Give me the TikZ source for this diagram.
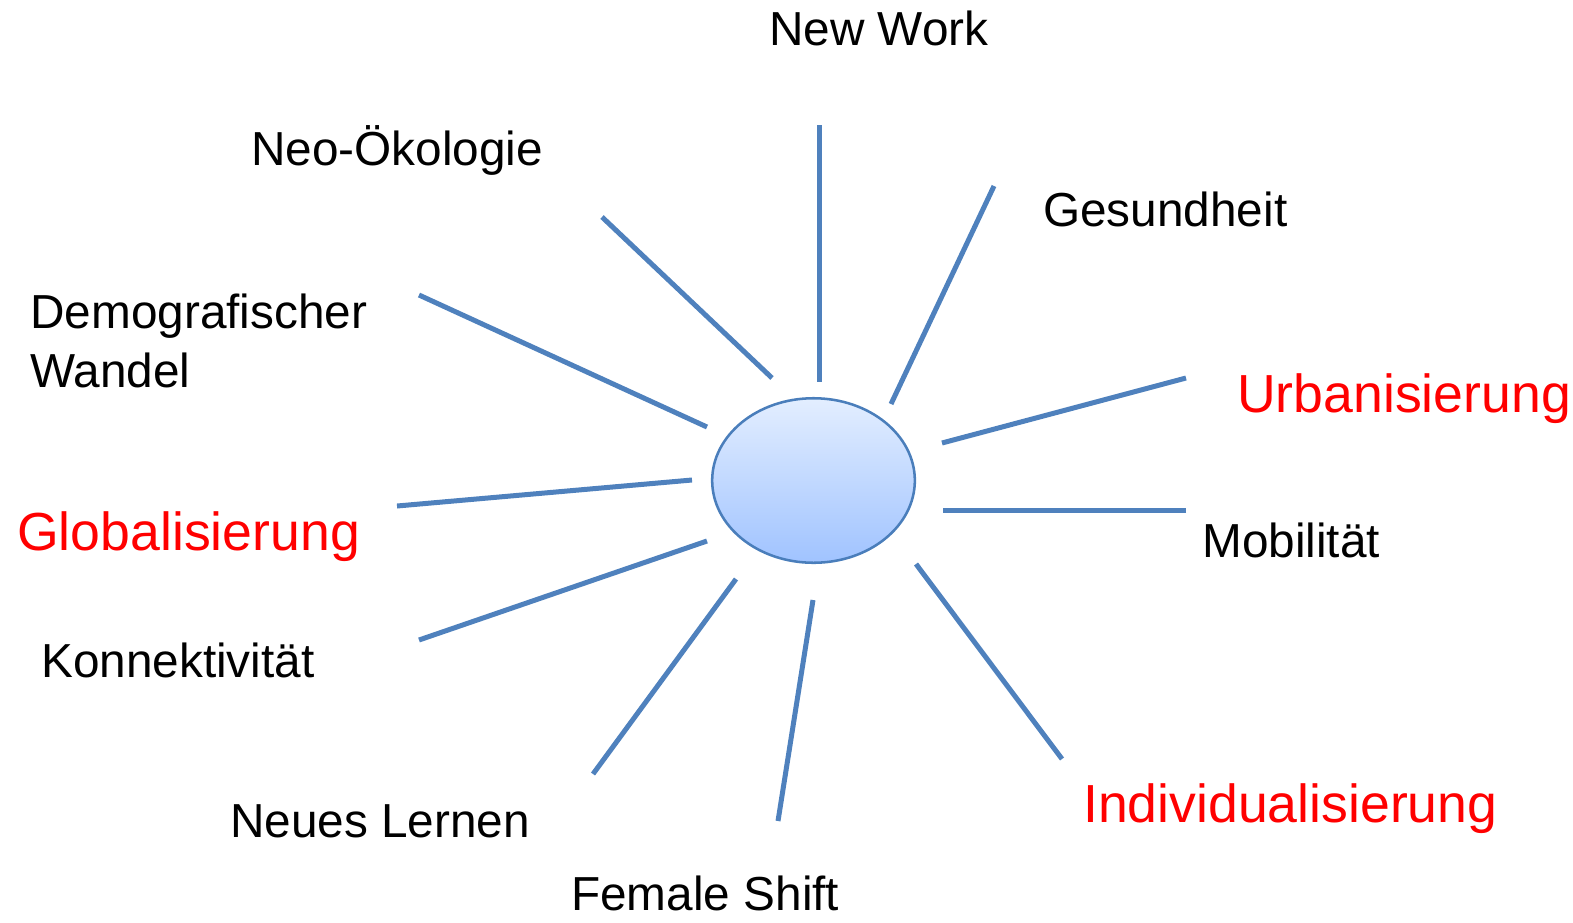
\documentclass[tikz,border=0pt]{standalone}
\usepackage{fontspec}
\setmainfont{Liberation Sans}
\usetikzlibrary{shapes.geometric}
\definecolor{spoke}{HTML}{4F81BD}
\definecolor{rim}{HTML}{4A7EBB}
\definecolor{topfill}{HTML}{E3EEFF}
\definecolor{botfill}{HTML}{A0C3FF}
\definecolor{redtxt}{HTML}{FF0000}
\begin{document}
\begin{tikzpicture}[x=0.75pt,y=-0.75pt,
  spokeline/.style={draw=spoke,line width=3.75pt},
  blk/.style={anchor=base west,inner sep=0pt,font=\fontsize{35.8}{44.25}\selectfont},
  rd/.style={anchor=base west,inner sep=0pt,text=redtxt,font=\fontsize{40.2}{48}\selectfont}]
\useasboundingbox (0,0) rectangle (1573,922);
\node[draw=rim,line width=1.9pt,ellipse,top color=topfill,bottom color=botfill,
  minimum width=152pt,minimum height=123.4pt,inner sep=0pt] (hub) at (813.5,480.5) {};
% labels
\node[blk] (nw) at (769,45) {New Work};
\node[blk] (neo) at (251,165) {Neo-Ökologie};
\node[blk] (ges) at (1043,226) {Gesundheit};
\node[blk,align=left] (dem) at (30,387) {Demografischer\\Wandel};
\node[rd] (urb) at (1237,412) {Urbanisierung};
\node[rd] (glob) at (17,550) {Globalisierung};
\node[blk] (mob) at (1202,557) {Mobilität};
\node[blk] (kon) at (41,677) {Konnektivität};
\node[rd] (ind) at (1083,822) {Individualisierung};
\node[blk] (nl) at (230,837) {Neues Lernen};
\node[blk] (fs) at (571,910) {Female Shift};
% spoke end points
\coordinate (a1) at (819,125); \coordinate (b1) at (819,382);
\coordinate (a2) at (994,186); \coordinate (b2) at (891,404);
\coordinate (a3) at (1186,378); \coordinate (b3) at (942,443);
\coordinate (a4) at (1186,510); \coordinate (b4) at (943,510);
\coordinate (a5) at (1062,759); \coordinate (b5) at (916,564);
\coordinate (a6) at (778,821); \coordinate (b6) at (813,600);
\coordinate (a7) at (593,774); \coordinate (b7) at (736,579);
\coordinate (a8) at (419,640); \coordinate (b8) at (707,541);
\coordinate (a9) at (397,506); \coordinate (b9) at (692,480);
\coordinate (a10) at (419,295); \coordinate (b10) at (707,427);
\coordinate (a11) at (602,217); \coordinate (b11) at (772,378);
\foreach \i in {1,...,11} \draw[spokeline] (a\i) -- (b\i);
\end{tikzpicture}
\end{document}
